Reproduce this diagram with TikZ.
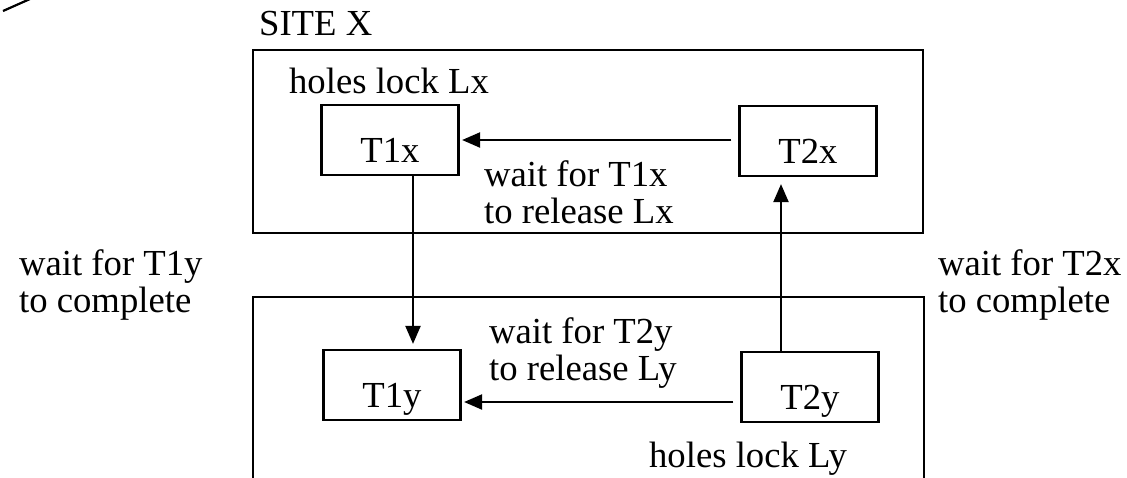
\documentclass[tikz,border=0pt]{standalone}
\usepackage{fontspec}
\setmainfont{Liberation Serif}
\usetikzlibrary{arrows.meta}

\begin{document}
\begin{tikzpicture}[x=1pt, y=-1pt, line width=2.2pt,
  every node/.style={font=\fontsize{36.7}{37}\selectfont},
  txbox/.style={draw, inner sep=0pt, minimum width=137pt, minimum height=70pt,
    text height=44pt, text depth=0pt},
  lbl/.style={anchor=base west, inner sep=0pt, align=left},
  arr/.style={-{Triangle[length=18pt, width=15pt]}}]
  \clip (0,0) rectangle (1127,477);

  \draw (3,11) -- (30,-1);

  % the two sites
  \draw (253,50) rectangle (923,233);
  \draw (253,480) -- (253,297) -- (924,297) -- (924,480);
  \node[lbl] (site) at (258,35) {SITE X};

  % transactions
  \node[txbox] (T1x) at (390,140) {T1x};
  \node[txbox] (T2x) at (808,141) {T2x};
  \node[txbox] (T1y) at (392,385) {T1y};
  \node[txbox] (T2y) at (810,387) {T2y};

  \node[lbl] (lockx) at (288,93) {holes lock Lx};
  \node[lbl] (locky) at (648,467) {holes lock Ly};

  % waits
  \draw[arr, shorten <=7pt, shorten >=2.5pt]
    ([yshift=1pt]T2x.west) -- ([yshift=1pt]T2x.west -| T1x.east);
  \draw[arr, shorten <=7pt, shorten >=2.5pt]
    ([yshift=-15pt]T2y.west) -- ([yshift=-15pt]T2y.west -| T1y.east);
  \draw[arr, shorten >=5pt]
    ([xshift=23pt]T1x.south) -- ([xshift=23pt]T1x.south |- T1y.north);
  \draw[arr, shorten >=7pt]
    ([xshift=-29pt]T2y.north) -- ([xshift=-29pt]T2y.north |- T2x.south);

  % base anchor sits on the last line
  \node[lbl] (wx) at (483,223) {wait for T1x\\to release Lx};
  \node[lbl] (wy) at (488,380) {wait for T2y\\to release Ly};
  \node[lbl] (w1) at (18,312) {wait for T1y\\to complete};
  \node[lbl] (w2) at (937,312) {wait for T2x\\to complete};
\end{tikzpicture}
\end{document}
